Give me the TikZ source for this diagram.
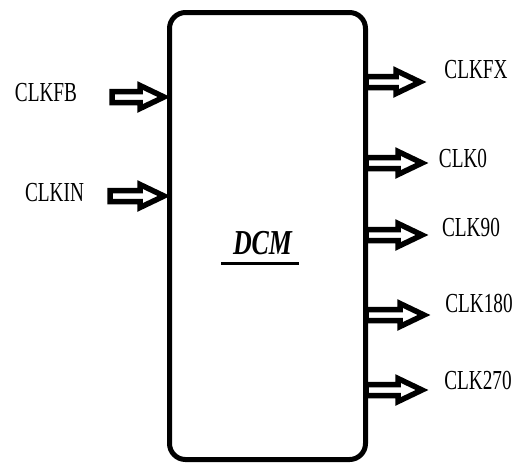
\documentclass[tikz,border=0pt]{standalone}
\usepackage{fontspec}
\setmainfont{Liberation Serif}
\usetikzlibrary{calc}
\tikzset{
  blk/.style={line width=5.5pt, line join=miter, miter limit=10},
  lbl/.style={inner sep=0pt, anchor=center, font=\fontsize{27.5}{30}\selectfont},
  boxst/.style={line width=5pt, rounded corners=16pt},
}
\newcommand{\flowarrow}[2]{%
  \draw[blk, shift={(#1)}] (0,5.5) -- (#2-24,5.5) -- (#2-24,11.5) -- (#2,0) -- (#2-24,-11.5) -- (#2-24,-5.5) -- (0,-5.5) -- cycle;}
\begin{document}
\begin{tikzpicture}[x=1pt,y=1pt]
\useasboundingbox (0,0) rectangle (521,-467);
% main block
\draw[boxst] (169.5,-12.5) rectangle (365.5,-459.5);
% DCM label
\node[inner sep=0pt] (dcm) at (262.5,-243.5) {\scalebox{0.74}[1]{\fontsize{35}{38}\selectfont\bfseries\itshape DCM}};
\draw[line width=3pt] (221,-263) coordinate (ul1) -- (299,-263) coordinate (ul2);
% input arrows
\coordinate (inFB) at (112,-97);
\coordinate (inIN) at (110,-196);
\flowarrow{inFB}{52}
\flowarrow{inIN}{54}
% output arrows
\coordinate (oFX) at (366,-82);
\coordinate (o0) at (366,-163);
\coordinate (o90) at (366,-235);
\coordinate (o180) at (366,-315);
\coordinate (o270) at (366,-390);
\flowarrow{oFX}{54}
\flowarrow{o0}{56}
\flowarrow{o90}{56}
\flowarrow{o180}{58}
\flowarrow{o270}{56}
% labels
\node[lbl] (lFB) at (46,-93) {\scalebox{0.7}[1]{CLKFB}};
\node[lbl] (lIN) at (54.5,-193) {\scalebox{0.7}[1]{CLKIN}};
\node[lbl] (lFX) at (476,-70) {\scalebox{0.7}[1]{CLKFX}};
\node[lbl] (l0) at (463,-158) {\scalebox{0.7}[1]{CLK0}};
\node[lbl] (l90) at (471,-227) {\scalebox{0.7}[1]{CLK90}};
\node[lbl] (l180) at (479,-303) {\scalebox{0.7}[1]{CLK180}};
\node[lbl] (l270) at (478,-380) {\scalebox{0.7}[1]{CLK270}};
\end{tikzpicture}
\end{document}
